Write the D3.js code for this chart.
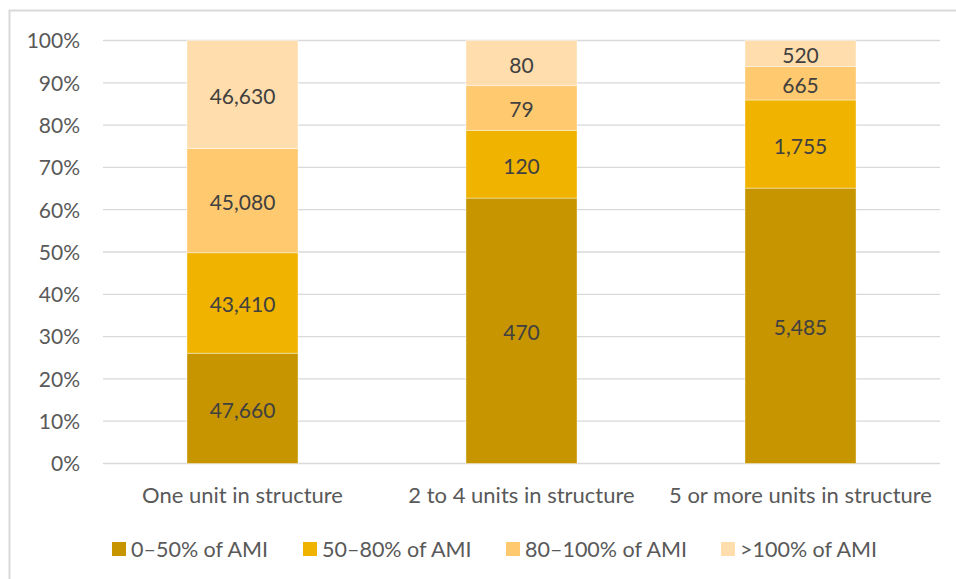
<!DOCTYPE html>
<html>
<head>
<meta charset="utf-8">
<script src="https://cdn.jsdelivr.net/npm/d3@7"></script>
<style>
  html, body { margin: 0; padding: 0; background: #fff; }
  svg { display: block; font-family: Lato, "Open Sans", sans-serif; }
</style>
</head>
<body>
<svg id="chart" width="956" height="579"></svg>
<script>
// Housing units by structure type, split by income band (share of area median income)
const categories = ["One unit in structure", "2 to 4 units in structure", "5 or more units in structure"];
const seriesNames = ["0\u201350% of AMI", "50\u201380% of AMI", "80\u2013100% of AMI", ">100% of AMI"];
const band0to50   = [47660, 470, 5485];
const band50to80  = [43410, 120, 1755];
const band80to100 = [45080, 79, 665];
const bandOver100 = [46630, 80, 520];
const yTicks = [0, 0.1, 0.2, 0.3, 0.4, 0.5, 0.6, 0.7, 0.8, 0.9, 1.0];
const colors = ["#C69500", "#EFB300", "#FFC96F", "#FFDDAC"];

const seriesValues = [band0to50, band50to80, band80to100, bandOver100];
const rows = categories.map((c, i) => {
  const row = { category: c };
  seriesNames.forEach((s, j) => { row[s] = seriesValues[j][i]; });
  return row;
});

const stacked = d3.stack()
  .keys(seriesNames)
  .offset(d3.stackOffsetExpand)(rows);

const svg = d3.select("#chart");

// outer frame
svg.append("rect")
  .attr("x", 9.5).attr("y", 10.5)
  .attr("width", 960).attr("height", 580)
  .attr("fill", "none").attr("stroke", "#D9D9D9").attr("stroke-width", 2);

const x = d3.scaleBand().domain(categories).range([103, 940]);
const y = d3.scaleLinear().domain([0, 1]).range([463.5, 40.5]);
const barWidth = x.bandwidth() * 0.398;

// gridlines
svg.append("g")
  .selectAll("line")
  .data(yTicks)
  .join("line")
  .attr("x1", 103).attr("x2", 940)
  .attr("y1", d => y(d)).attr("y2", d => y(d))
  .attr("stroke", "#D9D9D9").attr("stroke-width", 1.3);

// y axis labels
const yAxis = d3.axisLeft(y).tickValues(yTicks).tickFormat(d3.format(".0%")).tickSize(0).tickPadding(0);
svg.append("g")
  .attr("transform", "translate(80,0)")
  .call(yAxis)
  .call(g => g.select(".domain").remove())
  .call(g => g.selectAll("text")
    .attr("fill", "#595959")
    .attr("font-size", 21)
    .attr("font-family", "Lato, sans-serif")
    .attr("dy", "0.35em"));

// stacked bars
const layers = svg.append("g").selectAll("g")
  .data(stacked)
  .join("g")
  .attr("fill", (d, i) => colors[i]);

layers.selectAll("rect")
  .data(d => d)
  .join("rect")
  .attr("x", d => x(d.data.category) + (x.bandwidth() - barWidth) / 2)
  .attr("width", barWidth)
  .attr("y", d => y(d[1]))
  .attr("height", d => y(d[0]) - y(d[1]))
  .attr("stroke", "#fff")
  .attr("stroke-opacity", 0.5)
  .attr("stroke-width", 0.8);

// value labels
const fmt = d3.format(",");
svg.append("g").selectAll("g")
  .data(stacked)
  .join("g")
  .selectAll("text")
  .data(d => d.map(p => ({ p, key: d.key })))
  .join("text")
  .attr("x", d => x(d.p.data.category) + x.bandwidth() / 2)
  .attr("y", d => (y(d.p[0]) + y(d.p[1])) / 2)
  .attr("dy", "0.45em")
  .attr("text-anchor", "middle")
  .attr("fill", "#404040")
  .attr("font-size", 21)
  .text(d => fmt(d.p.data[d.key]));

// category axis labels
const xAxis = d3.axisBottom(x).tickSize(0).tickPadding(0);
svg.append("g")
  .attr("transform", "translate(0,495)")
  .call(xAxis)
  .call(g => g.select(".domain").remove())
  .call(g => g.selectAll("text")
    .attr("fill", "#595959")
    .attr("font-size", 22)
    .attr("font-family", "Lato, sans-serif")
    .attr("dy", "0.35em")
    .attr("y", 0));

// legend
const legendX = [112, 303, 506, 721];
const legend = svg.append("g").selectAll("g")
  .data(seriesNames)
  .join("g")
  .attr("transform", (d, i) => `translate(${legendX[i]},542)`);
legend.append("rect")
  .attr("width", 14).attr("height", 14)
  .attr("fill", (d, i) => colors[i]);
legend.append("text")
  .attr("x", 19).attr("y", 7)
  .attr("dy", "0.36em")
  .attr("fill", "#595959")
  .attr("font-size", 21.5)
  .text(d => d);
</script>
</body>
</html>
